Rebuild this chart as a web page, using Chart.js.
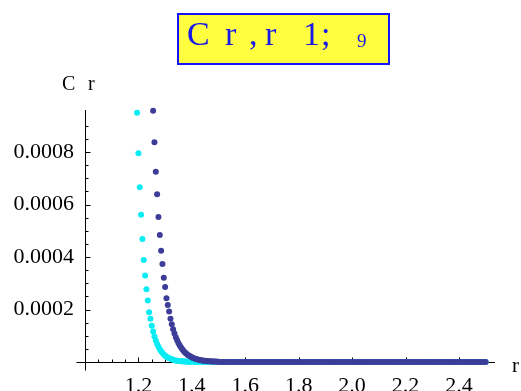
<!DOCTYPE html>
<html>
<head>
<meta charset="utf-8">
<script src="https://cdn.jsdelivr.net/npm/chart.js@4.4.1/dist/chart.umd.min.js"></script>
<style>
  html, body { margin: 0; padding: 0; background: #fff; }
  canvas { display: block; }
</style>
</head>
<body>
<canvas id="c" width="521" height="391"></canvas>
<script>
// Steep part of the first curve (cyan), r step 0.005, then a coarser run to 1.50
const rCyan = [
  1.195, 1.200, 1.205, 1.210, 1.215, 1.220, 1.225, 1.230, 1.235, 1.240,
  1.245, 1.250, 1.255, 1.260, 1.265, 1.270, 1.275, 1.280, 1.285, 1.290,
  1.295, 1.300, 1.305, 1.310, 1.315, 1.320, 1.325, 1.330, 1.335, 1.340,
  1.345, 1.350, 1.355, 1.360, 1.365, 1.370, 1.375, 1.380, 1.385, 1.390,
  1.395, 1.400, 1.41, 1.42, 1.43, 1.44, 1.45, 1.46, 1.47, 1.48, 1.49, 1.50
];
const cCyan = [
  0.000950, 0.000795, 0.000666, 0.000561, 0.000469, 0.000389, 0.000330, 0.000277, 0.000234, 0.000190,
  0.000165, 0.000138, 0.000116, 0.0000975, 0.0000819, 0.0000688, 0.0000578, 0.0000485, 0.0000408, 0.0000342,
  0.0000288, 0.0000242, 0.0000203, 0.0000170, 0.0000143, 0.0000120, 0.0000101, 0.0000085, 0.0000071, 0.0000060,
  0.0000050, 0.0000042, 0.0000036, 0.0000030, 0.0000025, 0.0000021, 0.0000018, 0.0000015, 0.0000013, 0.0000011,
  0.0000009, 0.0000008, 0, 0, 0, 0, 0, 0, 0, 0, 0, 0
];

// Steep part of the second curve (dark blue), r step 0.005
const rBlue = [
  1.255, 1.260, 1.265, 1.270, 1.275, 1.280, 1.285, 1.290, 1.295, 1.300,
  1.305, 1.310, 1.315, 1.320, 1.325, 1.330, 1.335, 1.340, 1.345, 1.350,
  1.355, 1.360, 1.365, 1.370, 1.375, 1.380, 1.385, 1.390, 1.395, 1.400,
  1.405, 1.410, 1.415, 1.420, 1.425, 1.430, 1.435, 1.440, 1.445, 1.450,
  1.455, 1.460, 1.465, 1.470, 1.475, 1.480, 1.485, 1.490, 1.495, 1.500
];
const cBlue = [
  0.000957, 0.000837, 0.000725, 0.000639, 0.000552, 0.000484, 0.000424, 0.000373, 0.000321, 0.000286,
  0.000243, 0.000217, 0.000192, 0.000165, 0.000144, 0.000125, 0.000109, 0.0000947, 0.0000824, 0.0000717,
  0.0000624, 0.0000543, 0.0000472, 0.0000411, 0.0000357, 0.0000311, 0.0000270, 0.0000235, 0.0000205, 0.0000178,
  0.0000155, 0.0000135, 0.0000117, 0.0000102, 0.0000089, 0.0000077, 0.0000067, 0.0000058, 0.0000051, 0.0000044,
  0.0000038, 0.0000033, 0.0000029, 0.0000025, 0.0000022, 0.0000019, 0.0000017, 0.0000015, 0.0000013, 0.0000011
];

// Flat tail shared by both curves, r step 0.01
const rTail = [
  1.51, 1.52, 1.53, 1.54, 1.55, 1.56, 1.57, 1.58, 1.59, 1.60,
  1.61, 1.62, 1.63, 1.64, 1.65, 1.66, 1.67, 1.68, 1.69, 1.70,
  1.71, 1.72, 1.73, 1.74, 1.75, 1.76, 1.77, 1.78, 1.79, 1.80,
  1.81, 1.82, 1.83, 1.84, 1.85, 1.86, 1.87, 1.88, 1.89, 1.90,
  1.91, 1.92, 1.93, 1.94, 1.95, 1.96, 1.97, 1.98, 1.99, 2.00,
  2.01, 2.02, 2.03, 2.04, 2.05, 2.06, 2.07, 2.08, 2.09, 2.10,
  2.11, 2.12, 2.13, 2.14, 2.15, 2.16, 2.17, 2.18, 2.19, 2.20,
  2.21, 2.22, 2.23, 2.24, 2.25, 2.26, 2.27, 2.28, 2.29, 2.30,
  2.31, 2.32, 2.33, 2.34, 2.35, 2.36, 2.37, 2.38, 2.39, 2.40,
  2.41, 2.42, 2.43, 2.44, 2.45, 2.46, 2.47, 2.48, 2.49, 2.50
];
const cTail = [
  0, 0, 0, 0, 0, 0, 0, 0, 0, 0,
  0, 0, 0, 0, 0, 0, 0, 0, 0, 0,
  0, 0, 0, 0, 0, 0, 0, 0, 0, 0,
  0, 0, 0, 0, 0, 0, 0, 0, 0, 0,
  0, 0, 0, 0, 0, 0, 0, 0, 0, 0,
  0, 0, 0, 0, 0, 0, 0, 0, 0, 0,
  0, 0, 0, 0, 0, 0, 0, 0, 0, 0,
  0, 0, 0, 0, 0, 0, 0, 0, 0, 0,
  0, 0, 0, 0, 0, 0, 0, 0, 0, 0,
  0, 0, 0, 0, 0, 0, 0, 0, 0, 0
];

const xTickLabels = ['1.2', '1.4', '1.6', '1.8', '2.0', '2.2', '2.4'];
const yTickLabels = ['0.0002', '0.0004', '0.0006', '0.0008'];

const SERIF = '"Liberation Serif", "DejaVu Serif", serif';
const CYAN = 'rgb(10, 236, 244)';
const BLUE = 'rgb(61, 61, 153)';
const TITLE_BLUE = 'rgb(24, 24, 232)';

function toPoints(rs, cs) {
  return rs.map((r, i) => ({ x: r, y: cs[i] }));
}

function labelFor(list, v, eps) {
  const hit = list.find(s => Math.abs(parseFloat(s) - v) < eps);
  return hit || '';
}

function isMultiple(v, step) {
  const k = v / step;
  return Math.abs(k - Math.round(k)) < 1e-6;
}

// Axes crossing at (1, 0) with inward tick marks, drawn from the chart scales
const crossAxes = {
  id: 'crossAxes',
  beforeDatasetsDraw(chart) {
    const { ctx, chartArea: a, scales: { x, y } } = chart;
    const y0 = Math.round(y.getPixelForValue(0)) + 0.5;
    const x0 = Math.round(x.getPixelForValue(x.min)) + 0.5;
    ctx.save();
    ctx.strokeStyle = '#000';
    ctx.lineWidth = 1;
    ctx.beginPath();
    ctx.moveTo(x0 - 9, y0); ctx.lineTo(a.right, y0);
    ctx.moveTo(x0, a.top); ctx.lineTo(x0, y0 + 8);
    x.ticks.forEach(t => {
      if (!isMultiple(t.value, 0.05) || t.value <= x.min + 1e-9) return;
      const major = isMultiple(t.value, 0.2);
      const px = Math.round(x.getPixelForValue(t.value)) + 0.5;
      ctx.moveTo(px, y0); ctx.lineTo(px, y0 - (major ? 5 : 3));
    });
    y.ticks.forEach(t => {
      if (!isMultiple(t.value / 0.00005, 1) || t.value <= 1e-12) return;
      const major = isMultiple(t.value / 0.0002, 1);
      const py = Math.round(y.getPixelForValue(t.value)) + 0.5;
      ctx.moveTo(x0, py); ctx.lineTo(x0 + (major ? 5 : 3), py);
    });
    ctx.stroke();
    ctx.restore();
  },
  afterDraw(chart) {
    const { ctx } = chart;
    ctx.save();
    // axis names
    ctx.fillStyle = '#000';
    ctx.textBaseline = 'alphabetic';
    ctx.font = '20px ' + SERIF;
    ctx.fillText('C', 62, 90);
    ctx.fillText('r', 88, 90);
    ctx.font = '21px ' + SERIF;
    ctx.fillText('r', 512, 372);

    // framed title
    ctx.fillStyle = 'rgb(255, 255, 64)';
    ctx.fillRect(177, 13, 213, 52);
    ctx.strokeStyle = 'rgb(20, 20, 255)';
    ctx.lineWidth = 2;
    ctx.strokeRect(178, 14, 211, 50);
    ctx.fillStyle = TITLE_BLUE;
    ctx.font = '34px ' + SERIF;
    const parts = [['C', 188], ['r', 225], [',', 250], ['r', 265], ['1', 305], [';', 322]];
    parts.forEach(([s, inkLeft]) => {
      const m = ctx.measureText(s);
      ctx.fillText(s, inkLeft + m.actualBoundingBoxLeft, 45);
    });
    ctx.font = '19px ' + SERIF;
    const m9 = ctx.measureText('9');
    ctx.fillText('9', 357 + m9.actualBoundingBoxLeft, 47);
    ctx.restore();
  }
};

new Chart(document.getElementById('c'), {
  type: 'scatter',
  data: {
    datasets: [
      {
        data: toPoints(rBlue, cBlue).concat(toPoints(rTail, cTail)),
        backgroundColor: BLUE,
        borderColor: BLUE,
        borderWidth: 0,
        pointRadius: 3,
        order: 0
      },
      {
        data: toPoints(rCyan, cCyan).concat(toPoints(rTail, cTail)),
        backgroundColor: CYAN,
        borderColor: CYAN,
        borderWidth: 0,
        pointRadius: 3,
        order: 1
      }
    ]
  },
  options: {
    responsive: false,
    devicePixelRatio: 1,
    animation: false,
    events: [],
    clip: false,
    layout: { padding: { top: 110, right: 26, left: 0, bottom: 0 } },
    plugins: { legend: { display: false }, tooltip: { enabled: false } },
    scales: {
      x: {
        type: 'linear',
        min: 1.0,
        max: 2.535,
        grid: { display: false, drawTicks: false },
        border: { display: false },
        afterFit(scale) { scale.height = 29; },
        ticks: {
          stepSize: 0.05,
          autoSkip: false,
          maxRotation: 0,
          padding: 11,
          color: '#000',
          font: { family: SERIF, size: 22 },
          callback: v => labelFor(xTickLabels, v, 1e-6)
        }
      },
      y: {
        type: 'linear',
        min: 0,
        max: 0.00096,
        grid: { display: false, drawTicks: false },
        border: { display: false },
        afterFit(scale) { scale.width = 85; },
        ticks: {
          stepSize: 0.00005,
          autoSkip: false,
          padding: 11,
          color: '#000',
          font: { family: SERIF, size: 22 },
          callback: v => labelFor(yTickLabels, v, 1e-9)
        }
      }
    }
  },
  plugins: [crossAxes]
});
</script>
</body>
</html>
